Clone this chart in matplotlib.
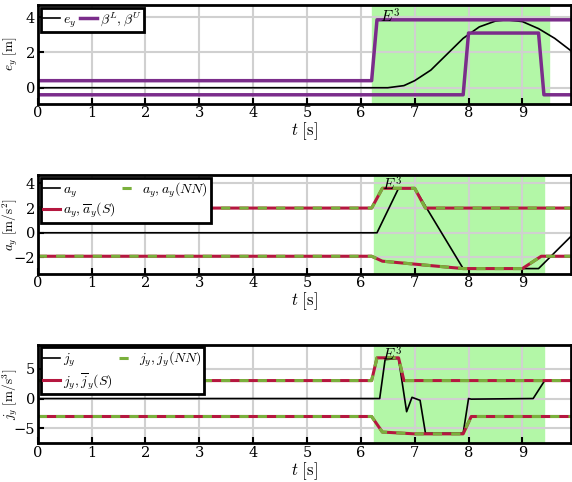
import numpy as np
import matplotlib
matplotlib.use("Agg")
import matplotlib.pyplot as plt
plt.rcParams['mathtext.fontset'] = 'cm'
plt.rcParams['font.family'] = 'DejaVu Serif'

# top panel
e_t = [0, 6.5, 6.8, 7.0, 7.3, 7.6, 7.9, 8.2, 8.5, 8.7, 9.0, 9.3, 9.6, 9.9]
e_v = [0, 0, 0.12, 0.4, 1.0, 1.9, 2.8, 3.45, 3.78, 3.85, 3.75, 3.35, 2.8, 2.1]
ub_t = [0, 6.2, 6.3, 9.9]
ub_v = [0.4, 0.4, 3.85, 3.85]
lb_t = [0, 7.9, 8.0, 9.3, 9.4, 9.9]
lb_v = [-0.4, -0.4, 3.1, 3.1, -0.4, -0.4]

# middle panel
a_t = [0, 6.3, 6.7, 7.0, 7.9, 9.3, 9.9]
a_v = [0, 0, 3.6, 3.6, -2.9, -2.9, -0.3]
au_t = [0, 6.2, 6.4, 7.0, 7.2, 9.9]
au_v = [2, 2, 3.6, 3.6, 2, 2]
al_t = [0, 6.2, 6.4, 7.9, 9.0, 9.35, 9.9]
al_v = [-1.9, -1.9, -2.3, -2.9, -2.9, -1.9, -1.9]

# bottom panel
j_t = [0, 6.35, 6.45, 6.7, 6.85, 6.95, 7.1, 7.2, 7.9, 8.0, 8.05, 9.2, 9.4]
j_v = [0, 0, 6.5, 6.7, -2.2, 0.2, -0.3, -5.8, -5.8, 0, -0.1, 0, 2.8]
ju_t = [0, 6.2, 6.3, 6.7, 6.8, 9.9]
ju_v = [3, 3, 6.8, 6.8, 3, 3]
jl_t = [0, 6.2, 6.4, 7.0, 7.9, 8.05, 9.9]
jl_v = [-3, -3, -5.6, -5.9, -5.9, -3, -3]

xt = list(range(10))
fig, axs = plt.subplots(3, 1, figsize=(5.72, 4.82), dpi=100)
fig.subplots_adjust(left=0.066, right=0.998, top=0.99, bottom=0.08, hspace=0.72)

def style(ax, ylim, yt, ylab):
    ax.set_xlim(0, 9.9); ax.set_ylim(*ylim)
    ax.set_xticks(xt); ax.set_yticks(yt)
    ax.grid(True, color='#d0d0d0', lw=1.5)
    ax.set_axisbelow(True)
    ax.tick_params(direction='in', length=4, width=1.5, labelsize=10.5, pad=2)
    for s in ax.spines.values(): s.set_linewidth(2)
    ax.set_ylabel(ylab, fontsize=9.5)
    ax.yaxis.set_label_coords(-0.033, 0.5)
    ax.set_xlabel(r'$t\ [\mathrm{s}]$', fontsize=12, labelpad=0)

green = '#b3f7a7'
ax = axs[0]
ax.axvspan(6.2, 9.5, color=green, zorder=0.5)
ax.plot(e_t, e_v, color='k', lw=1.2, label=r'$e_y$')
ax.plot(ub_t, ub_v, color='#7b2d8b', lw=2.5, label=r'$\beta^L,\beta^U$')
ax.plot(lb_t, lb_v, color='#7b2d8b', lw=2.5)
ax.text(6.35, 0.97, r'$E^3$', fontsize=11, transform=ax.get_xaxis_transform(), va='top')
style(ax, (-0.9, 4.7), [0, 2, 4], r'$e_y\ [\mathrm{m}]$')
leg = ax.legend(loc='upper left', ncol=2, fontsize=10, handlelength=1.2, columnspacing=0.3,
                handletextpad=0.2, borderpad=0.2, fancybox=False, framealpha=1, borderaxespad=0.2)
leg.get_frame().set_edgecolor('k'); leg.get_frame().set_linewidth(2)

red = '#b5173f'; lg = '#7ab03c'
for ax, (t, v, ut, uv, lt, lv, ylim, yt, ylab, nm) in zip(axs[1:], [
        (a_t, a_v, au_t, au_v, al_t, al_v, (-3.3, 4.7), [-2, 0, 2, 4], r'$a_y\ [\mathrm{m/s}^2]$', 'a'),
        (j_t, j_v, ju_t, ju_v, jl_t, jl_v, (-7.5, 9.0), [-5, 0, 5], r'$j_y\ [\mathrm{m/s}^3]$', 'j')]):
    ax.axvspan(6.25, 9.4, color=green, zorder=0.5)
    ax.plot(t, v, color='k', lw=1.2, label=rf'${nm}_y$')
    ax.plot(ut, uv, color=red, lw=2.2, label=rf'${nm}_y,\overline{{{nm}}}_y(S)$')
    ax.plot(lt, lv, color=red, lw=2.2)
    ax.plot(ut, uv, color=lg, lw=2.2, dashes=(3, 3), label=rf'${nm}_y,{nm}_y(NN)$')
    ax.plot(lt, lv, color=lg, lw=2.2, dashes=(3, 3))
    ax.text(6.4, 0.99, r'$E^3$', fontsize=11, transform=ax.get_xaxis_transform(), va='top')
    style(ax, ylim, yt, ylab)
    leg = ax.legend(loc='upper left', ncol=2, fontsize=10, handlelength=1.2, columnspacing=0.5,
                    handletextpad=0.2, borderpad=0.2, fancybox=False, framealpha=1,
                    borderaxespad=0.2, labelspacing=0.1)
    leg.get_frame().set_edgecolor('k'); leg.get_frame().set_linewidth(2)

fig.savefig('out.png', dpi=100)
